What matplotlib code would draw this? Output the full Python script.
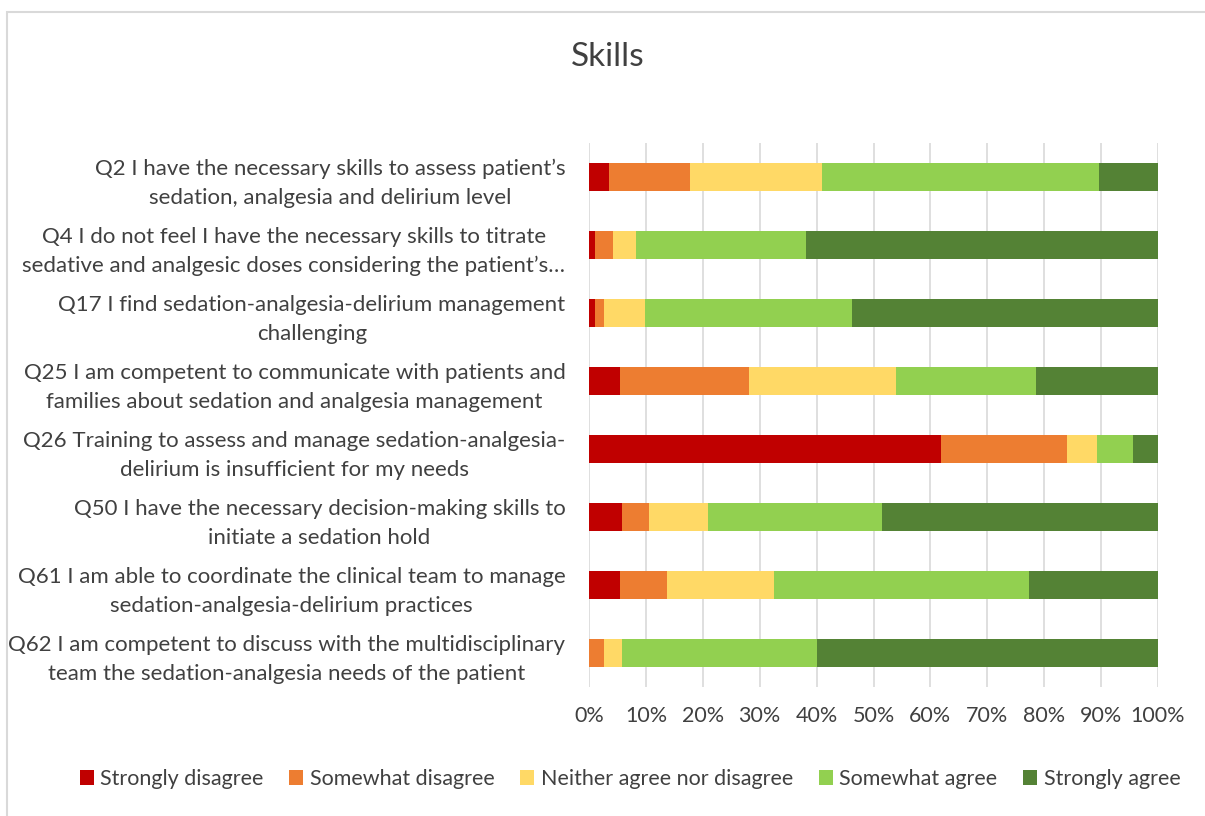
import numpy as np
import matplotlib.pyplot as plt
from matplotlib.patches import Rectangle

plt.rcParams['font.family'] = ['Lato', 'DejaVu Sans']

questions = [
    'Q2 I have the necessary skills to assess patient\u2019s\nsedation, analgesia and delirium level',
    'Q4 I do not feel I have the necessary skills to titrate\nsedative and analgesic doses considering the patient\u2019s\u2026',
    'Q17 I find sedation-analgesia-delirium management\nchallenging',
    'Q25 I am competent to communicate with patients and\nfamilies about sedation and analgesia management',
    'Q26 Training to assess and manage sedation-analgesia-\ndelirium is insufficient for my needs',
    'Q50 I have the necessary decision-making skills to\ninitiate a sedation hold',
    'Q61 I am able to coordinate the clinical team to manage\nsedation-analgesia-delirium practices',
    'Q62 I am competent to discuss with the multidisciplinary\nteam the sedation-analgesia needs of the patient',
]

categories = ['Strongly disagree', 'Somewhat disagree', 'Neither agree nor disagree',
              'Somewhat agree', 'Strongly agree']

strongly_disagree = [3.5, 1.1, 1.05, 5.45, 61.9, 5.85, 5.45, 0.0]
somewhat_disagree = [14.3, 3.1, 1.55, 22.65, 22.1, 4.65, 8.25, 2.6]
neither = [23.1, 4.0, 7.2, 25.8, 5.3, 10.4, 18.8, 3.25]
somewhat_agree = [48.8, 29.9, 36.5, 24.7, 6.3, 30.6, 44.9, 34.15]
strongly_agree = [10.3, 61.9, 53.7, 21.4, 4.4, 48.5, 22.6, 60.0]

colors = ['#C00000', '#ED7D31', '#FFD966', '#92D050', '#548235']

series = [strongly_disagree, somewhat_disagree, neither, somewhat_agree, strongly_agree]

fig = plt.figure(figsize=(12.05, 8.16), dpi=100)
ax = fig.add_axes([589 / 1205, 1 - 687 / 816, 569 / 1205, 544 / 816])

# light frame around the chart, like the Excel chart area
fig.patches.append(Rectangle((7 / 1205, -0.1), 1.2, 1 - 12 / 816 + 0.1,
                             transform=fig.transFigure, fill=False,
                             edgecolor='#d9d9d9', linewidth=1.5))

y = np.arange(len(questions))
total = np.array([sum(s[i] for s in series) for i in range(len(questions))])
left = np.zeros(len(questions))
for vals, name, c in zip(series, categories, colors):
    pct = np.array(vals) / total * 100
    ax.barh(y, pct, left=left, height=0.4, color=c, label=name, zorder=3)
    left += pct

ax.set_xlim(0, 100)
ax.set_ylim(len(questions) - 0.5, -0.5)
ax.set_xticks(np.arange(0, 101, 10))
ax.set_xticklabels([f'{v}%' for v in range(0, 101, 10)])
ax.set_yticks(y)
ax.set_yticklabels(questions, ha='right', multialignment='center', linespacing=1.55)
ax.grid(axis='x', color='#d9d9d9', linewidth=1.2, zorder=0)
for s in ax.spines.values():
    s.set_visible(False)
ax.tick_params(axis='both', length=0, colors='#404040', labelsize=15.5)
ax.tick_params(axis='y', labelsize=16, pad=17)
ax.tick_params(axis='x', pad=14)

fig.text(608 / 1205, 1 - 57 / 816, 'Skills', ha='center', va='center',
         fontsize=24, color='#404040')

fig.legend(loc='center', bbox_to_anchor=(630 / 1205, 1 - 779 / 816), ncol=5,
           frameon=False, fontsize=15.5, handlelength=0.65, handleheight=0.65,
           handletextpad=0.3, columnspacing=1.2, labelcolor='#404040')

plt.savefig('out.png', dpi=100)
